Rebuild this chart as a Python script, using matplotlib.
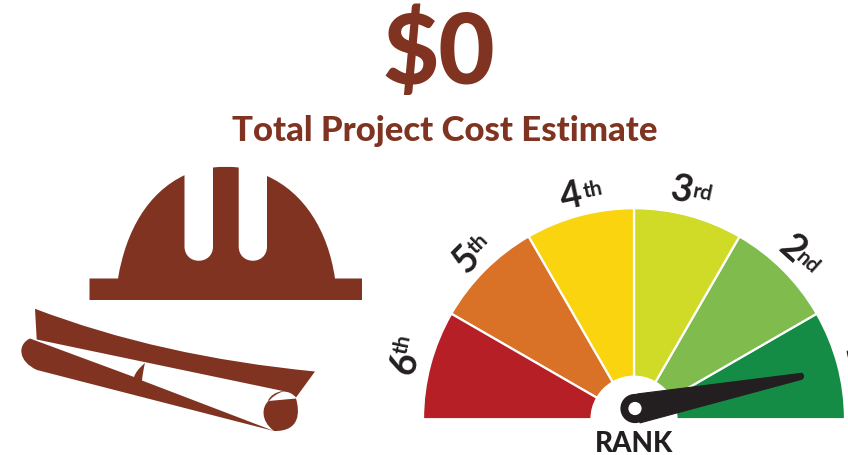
import matplotlib
matplotlib.use("Agg")
import matplotlib.pyplot as plt
from matplotlib.patches import Wedge, PathPatch, Circle
from matplotlib.path import Path
import numpy as np

BROWN = "#7F3320"
DARK = "#231F20"

title_value = "$0"
subtitle = "Total Project Cost Estimate"
gauge_title = "RANK"
ranks = ["1", "2", "3", "4", "5", "6"]
suffixes = ["st", "nd", "rd", "th", "th", "th"]
spans = [30, 30, 30, 30, 30, 30]
colors = ["#158C45", "#7FBB4D", "#CFDB27", "#FAD50F", "#D97127", "#B71F27"]
pointer_angle = 11.0

fig = plt.figure(figsize=(8.48, 4.56), dpi=100)
ax = fig.add_axes([0, 0, 1, 1])
ax.set_xlim(0, 848)
ax.set_ylim(454.5, -1.5)
ax.axis("off")

M, L, Q, C4, Z = Path.MOVETO, Path.LINETO, Path.CURVE3, Path.CURVE4, Path.CLOSEPOLY


def shape(cmds, color=BROWN, z=2, lw=0):
    verts = [c[1] for c in cmds]
    codes = [c[0] for c in cmds]
    ax.add_patch(PathPatch(Path(verts, codes), fc=color, ec=color, lw=lw, zorder=z))


# Hard hat
shape([(M, (89.5, 278)), (L, (118, 278)),
       (C4, (126, 230)), (C4, (148, 192)), (C4, (184.5, 174.7)),
       (L, (184.5, 246)), (C4, (184.5, 265)), (C4, (213, 265)), (C4, (213, 246)),
       (L, (213, 167)), (Q, (226, 165.5)), (Q, (238.7, 167)),
       (L, (238.7, 246)), (C4, (238.7, 265)), (C4, (267, 265)), (C4, (267, 246)),
       (L, (267, 175.5)), (C4, (304, 192)), (C4, (328, 230)), (C4, (335, 278)),
       (L, (362, 278)), (L, (362, 299.5)), (L, (89.5, 299.5)), (Z, (89.5, 299.5))])

# Plans: upper sheet
shape([(M, (35, 308.3)), (L, (36.7, 339)), (L, (283, 390.5)),
       (Q, (272, 392)), (Q, (268, 400)), (L, (269, 400.5)),
       (Q, (274, 394)), (Q, (283, 391)),
       (Q, (291, 391)), (Q, (296, 397)),
       (L, (315, 371)), (Q, (160, 356)), (Q, (35, 308.3)), (Z, (35, 308.3))])
# Plans: lower roll
shape([(M, (30, 338)), (C4, (17, 344)), (C4, (18, 361)), (C4, (37, 369.5)),
       (L, (274, 430.5)), (L, (142, 380)),
       (Q, (143, 370)), (Q, (145, 362.5)),
       (Q, (136, 370)), (Q, (134, 376.5)),
       (L, (30, 338)), (Z, (30, 338))])
# Plans: roll end
shape([(M, (268.5, 400.5)), (L, (296, 398)), (C4, (300, 412)), (C4, (300, 431)), (C4, (274, 430.5)),
       (C4, (260, 420)), (C4, (262, 406)), (C4, (268.5, 400.5)), (Z, (268.5, 400.5))])

# Gauge
cx, cy, r_out, r_in = 634, 418.7, 211, 42.5
start = 0
for span, col in zip(spans, colors):
    # y axis is inverted, so angles run clockwise on the data side
    ax.add_patch(Wedge((cx, cy), r_out, -(start + span), -start, width=r_out - r_in,
                       fc=col, ec="white", lw=1.6, zorder=3))
    start += span

# Needle
hx, hy, hr = 635, 408, 14.6
a = np.radians(pointer_angle)
tip = (hx + 171 * np.cos(a), hy - 171 * np.sin(a))
ax.add_patch(Circle((hx, hy), hr, fc=DARK, ec="none", zorder=5))
ax.add_patch(PathPatch(Path(
    [(637, 393.5), (tip[0] - 1, tip[1] - 2.6), (tip[0] + 2.5, tip[1] + 0.5), (tip[0] - 1, tip[1] + 3.4),
     (640, 422.4), (637, 393.5)],
    [M, L, Q, Q, L, Z]), fc=DARK, ec=DARK, lw=0.8, zorder=5))
ax.add_patch(Circle((hx, hy), 6.6, fc="white", ec="none", zorder=6))

# Rank labels
face = "Lato"
pos = [(856, 355, -78), (792, 248, -42), (682, 189, -12),
       (571, 195, 12), (466, 258, 45), (405, 362, 78)]
spos = [(871, 356), (808, 261), (703, 192), (593, 189), (478, 242), (403, 343)]
for rank, suf, (x, y, rot), (sx, sy) in zip(ranks, suffixes, pos, spos):
    ax.text(x, y, rank, fontsize=27, fontweight="bold", family=face, color=DARK, rotation=rot,
            ha="center", va="center", clip_on=True)
    ax.text(sx, sy, suf, fontsize=15, fontweight="bold", family=face, color=DARK, rotation=rot,
            ha="center", va="center", clip_on=True)

ax.text(634, 442.5, gauge_title, fontsize=20, fontweight="black", family=face, color=DARK,
        ha="center", va="center", clip_on=False)
ax.text(439, 53, title_value, fontsize=70, fontweight="black", family=face, color=BROWN,
        ha="center", va="center")
ax.text(445, 129, subtitle, fontsize=25, fontweight="black", family=face, color=BROWN,
        ha="center", va="center")

fig.savefig("out.png", dpi=100, facecolor="white")
